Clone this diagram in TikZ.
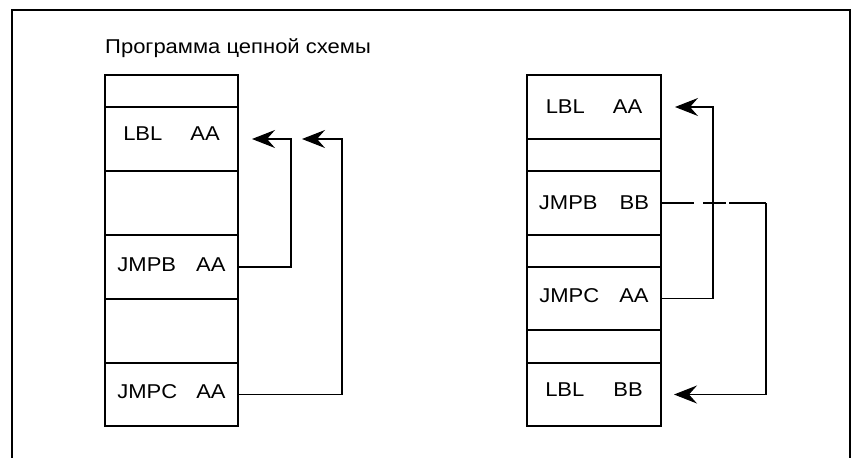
\documentclass[tikz,border=0pt]{standalone}
\usepackage{fontspec}
\setmainfont[FakeStretch=1.1]{Liberation Sans}
\usetikzlibrary{arrows.meta}
\begin{document}
\begin{tikzpicture}[x=1pt,y=-1pt,
  rowbox/.style={draw, line width=1.3pt, inner sep=0pt, outer sep=0pt, minimum height=#1},
  lrow/.style={rowbox=#1, minimum width=133pt},
  rrow/.style={rowbox=#1, minimum width=134pt},
  txt/.style={inner sep=0pt, font=\fontsize{20}{24}\selectfont},
  conn/.style={line width=1.1pt},
  arr/.style={conn, -{Stealth[length=23pt,width=18pt,inset=8pt]}}]
\useasboundingbox (0,0) rectangle (852,458);
% outer frame
\draw[line width=2pt] (11.5,458) -- (11.5,9.5) -- (850,9.5) -- (850,458);
% title
\node[txt, anchor=west] (title) at (105,48) {Программа цепной схемы};
% left box
\node[lrow=32pt] (L1) at (171.5,91) {};
\node[lrow=64pt] (L2) at (171.5,139) {};
\node[lrow=64pt] (L3) at (171.5,203) {};
\node[lrow=64pt] (L4) at (171.5,267) {};
\node[lrow=64pt] (L5) at (171.5,331) {};
\node[lrow=63pt] (L6) at (171.5,394.5) {};
\node[txt] (tL2) at (171.5,134) {LBL\hspace{28pt}AA};
\node[txt] (tL4) at (171.5,265) {JMPB\hspace{20pt}AA};
\node[txt] (tL6) at (171.5,392) {JMPC\hspace{19pt}AA};
% right box
\node[rrow=64pt] (R1) at (594,107) {};
\node[rrow=32pt] (R2) at (594,155) {};
\node[rrow=64pt] (R3) at (594,203) {};
\node[rrow=32pt] (R4) at (594,251) {};
\node[rrow=63pt] (R5) at (594,298.5) {};
\node[rrow=33pt] (R6) at (594,346.5) {};
\node[rrow=63pt] (R7) at (594,394.5) {};
\node[txt] (tR1) at (594,107) {LBL\hspace{28pt}AA};
\node[txt] (tR3) at (594,203) {JMPB\hspace{22pt}BB};
\node[txt] (tR5) at (594,296) {JMPC\hspace{20pt}AA};
\node[txt] (tR7) at (594,390) {LBL\hspace{29pt}BB};
% arrow targets
\coordinate (t1) at (252,139);
\coordinate (t2) at (302,139);
\coordinate (t3) at (675,107);
\coordinate (t4) at (674,394.5);
% left connectors
\draw[arr] (L4.east) -- ++(53,0) |- (t1);
\draw[arr] (L6.east) -- ++(104,0) |- (t2);
% right connectors
\draw[arr] (R5.east) -- ++(52,0) |- (t3);
\draw[conn, dash pattern=on 33pt off 9pt on 23pt off 3pt on 40pt] (R3.east) -- ++(105,0) coordinate (b1);
\draw[arr] (b1) |- (t4);
\end{tikzpicture}
\end{document}
